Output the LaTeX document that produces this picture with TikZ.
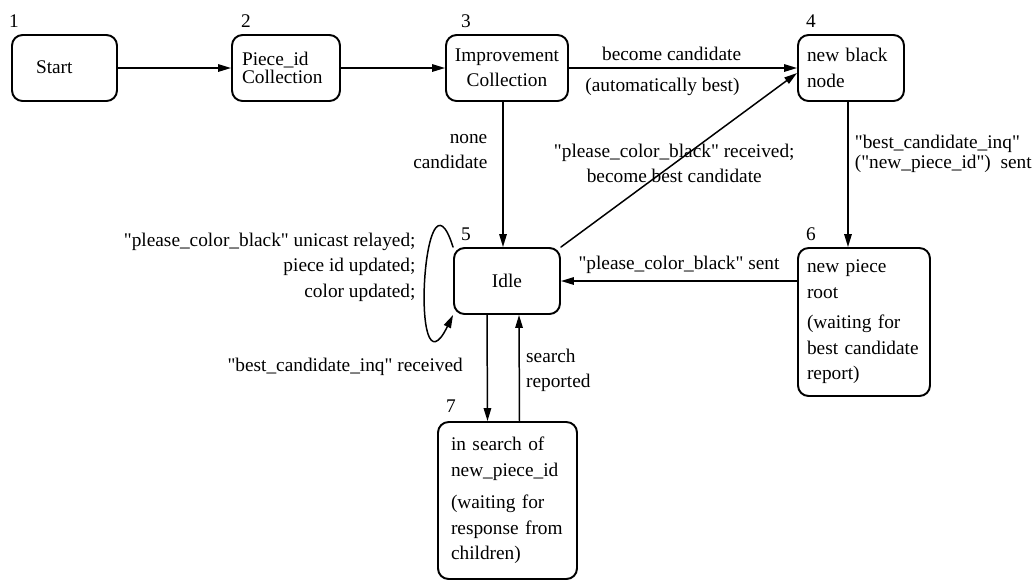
\documentclass[tikz,border=0pt]{standalone}
\usepackage{fontspec}
\setmainfont{Liberation Serif}[Ligatures=TeXOff]
\usetikzlibrary{arrows.meta,positioning}

\begin{document}
\begin{tikzpicture}[line cap=round,line join=round,x=0.02cm,y=-0.02cm,
  >={Triangle[length=2.6mm,width=1.5mm]},
  font=\fontsize{11}{14.5}\selectfont,
  state/.style={draw,line width=1.1pt,rounded corners=6pt,inner sep=0pt,minimum height=1.32cm},
  num/.style={inner sep=2pt},
  lbl/.style={inner sep=3.5pt},
  arr/.style={->,line width=0.85pt}]
\useasboundingbox (0,0) rectangle (1036,583);
% states
\node[state,minimum width=2.1cm,text width=1.14cm,align=left] (s1) at (64.5,68) {\strut Start};
\node[state,minimum width=2.16cm,text width=1.76cm,align=left] (s2) at (286,68) {Piece\_id\\[-4pt]Collection};
\node[state,minimum width=2.44cm,align=center] (s3) at (507,68) {Improvement\\Collection};
\node[state,minimum width=2.12cm,text width=1.76cm,align=left] (s4) at (851,68) {new black\\node};
\node[state,minimum width=2.12cm] (s5) at (507,281) {Idle};
\node[state,minimum width=2.64cm,minimum height=2.96cm,text width=2.28cm,align=left] (s6) at (864,322)
  {new piece\\root\\[3pt](waiting for\\best candidate\\report)};
\node[state,minimum width=2.78cm,minimum height=3.14cm,text width=2.26cm,align=left] (s7) at (507.5,500.5)
  {in search of\\new\_piece\_id\\[4pt](waiting for\\response from\\children)};
% numbers
\node[num,above=1.5pt of s1.north west,xshift=1.7pt] (n1) {1};
\node[num,above=1.5pt of s2.north west,xshift=8.5pt] (n2) {2};
\node[num,above=1.5pt of s3.north west,xshift=11.9pt] (n3) {3};
\node[num,above=1.5pt of s4.north west,xshift=7.9pt] (n4) {4};
\node[num,above=1.5pt of s5.north west,xshift=7.4pt] (n5) {5};
\node[num,above=1.5pt of s6.north west,xshift=7.9pt] (n6) {6};
\node[num,above=2.5pt of s7.north west,xshift=7.9pt] (n7) {7};
% transitions
\draw[arr] (s1) -- (s2);
\draw[arr] (s2) -- (s3);
\draw[arr] (s3) -- node[lbl,above,pos=0.45] (l34a) {become candidate}
  node[lbl,below=2pt,pos=0.41] (l34b) {(automatically best)} (s4);
\draw[arr] ([xshift=-0.08cm]s3.south) -- node[lbl,left=5pt,pos=0.34,align=right] (l35) {none\\candidate}
  ([xshift=-0.08cm]s5.north);
\draw[arr] (s5.north east) -- node[lbl,pos=0.48,align=center] (l54)
  {"please\_color\_black" received;\\become best candidate} ([yshift=-0.1cm]s4.west);
\draw[arr] ([xshift=-0.06cm]s4.south) coordinate (a46) -- node[lbl,right,pos=0.36,align=left] (l46)
  {"best\_candidate\_inq"\\[-3pt]("new\_piece\_id")\ \ sent} (a46 |- s6.north);
\draw[arr] (s6.west |- s5.east) -- node[lbl,above] (l65) {"please\_color\_black" sent} (s5.east);
\draw[arr] ([xshift=-0.4cm]s5.south) -- node[lbl,left=10pt,pos=0.49] (l57)
  {"best\_candidate\_inq" received} ([xshift=-0.4cm]s7.north);
\draw[arr] ([xshift=0.24cm]s7.north) -- node[lbl,right,pos=0.48,align=left] (l75)
  {search\\reported} ([xshift=0.24cm]s5.south);
\draw[arr] (s5.north west) .. controls +(-30,-95) and +(-44,90) .. (s5.south west);
\node[lbl,align=right,anchor=east] (l55) at (422,267)
  {"please\_color\_black" unicast relayed;\\piece id updated;\\color updated;};
\end{tikzpicture}
\end{document}
